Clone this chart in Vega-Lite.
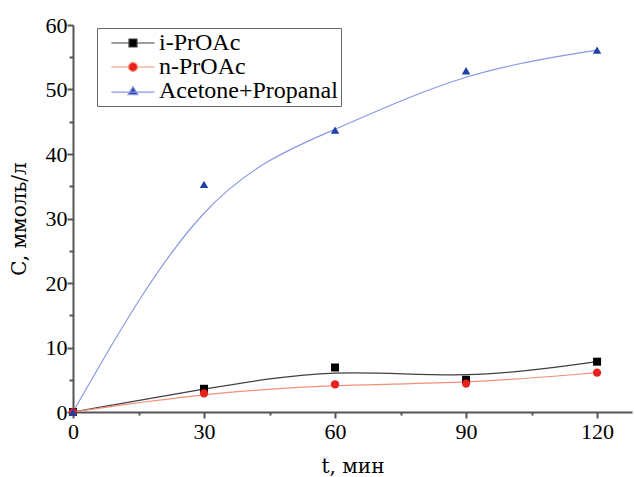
{
  "$schema": "https://vega.github.io/schema/vega-lite/v6.json",
  "width": 559,
  "height": 387,
  "autosize": {"type": "none"},
  "padding": {"left": 73, "top": 25, "right": 2, "bottom": 65},
  "background": "white",
  "config": {
    "view": {"stroke": null},
    "font": "Liberation Serif",
    "legend": {"symbolOpacity": 1, "symbolStrokeWidth": 1.2}
  },
  "data": {
    "values": [
      {"series": "i-PrOAc", "t": 0, "C": 0},
      {"series": "i-PrOAc", "t": 30, "C": 3.6},
      {"series": "i-PrOAc", "t": 60, "C": 6.9},
      {"series": "i-PrOAc", "t": 90, "C": 5.0},
      {"series": "i-PrOAc", "t": 120, "C": 7.8},
      {"series": "n-PrOAc", "t": 0, "C": 0},
      {"series": "n-PrOAc", "t": 30, "C": 2.9},
      {"series": "n-PrOAc", "t": 60, "C": 4.3},
      {"series": "n-PrOAc", "t": 90, "C": 4.4},
      {"series": "n-PrOAc", "t": 120, "C": 6.1},
      {"series": "Acetone+Propanal", "t": 0, "C": 0},
      {"series": "Acetone+Propanal", "t": 30, "C": 35.3},
      {"series": "Acetone+Propanal", "t": 60, "C": 43.7},
      {"series": "Acetone+Propanal", "t": 90, "C": 52.9},
      {"series": "Acetone+Propanal", "t": 120, "C": 56.1}
    ]
  },
  "encoding": {
    "x": {
      "field": "t",
      "type": "quantitative",
      "scale": {"domain": [0, 128], "nice": false, "zero": false},
      "axis": {
        "title": "t, мин",
        "values": [0, 15, 30, 45, 60, 75, 90, 105, 120],
        "labelExpr": "datum.value % 30 === 0 ? datum.label : ''",
        "tickSize": {"condition": {"test": "datum.value % 30 !== 0", "value": 3}, "value": 6},
        "grid": false,
        "domainColor": "#555555",
        "domainWidth": 2,
        "tickColor": "#555555",
        "tickWidth": 2,
        "labelFont": "Liberation Serif",
        "labelFontSize": 22,
        "labelColor": "black",
        "labelPadding": 3,
        "labelFlush": false,
        "labelOverlap": false,
        "titleFont": "DejaVu Serif",
        "titleFontSize": 20,
        "titleFontWeight": "normal",
        "titleColor": "black",
        "titlePadding": 14
      }
    },
    "y": {
      "field": "C",
      "type": "quantitative",
      "scale": {"domain": [0, 60], "nice": false},
      "axis": {
        "title": "C, ммоль/л",
        "values": [0, 5, 10, 15, 20, 25, 30, 35, 40, 45, 50, 55, 60],
        "labelExpr": "datum.value % 10 === 0 ? datum.label : ''",
        "tickSize": {"condition": {"test": "datum.value % 10 !== 0", "value": 4}, "value": 6},
        "grid": false,
        "domainColor": "#555555",
        "domainWidth": 2,
        "tickColor": "#555555",
        "tickWidth": 2,
        "labelFont": "Liberation Serif",
        "labelFontSize": 22,
        "labelColor": "black",
        "labelPadding": 0,
        "labelFlush": false,
        "labelOverlap": false,
        "titleFont": "DejaVu Serif",
        "titleFontSize": 20,
        "titleFontWeight": "normal",
        "titleColor": "black",
        "titlePadding": 16
      }
    }
  },
  "resolve": {"scale": {"shape": "independent", "size": "independent", "fill": "independent", "stroke": "independent"}},
  "layer": [
    {
      "mark": {"type": "line", "interpolate": "basis", "strokeWidth": 1.2},
      "encoding": {
        "stroke": {
          "field": "series",
          "type": "nominal",
          "scale": {
            "domain": ["i-PrOAc", "n-PrOAc", "Acetone+Propanal"],
            "range": ["#404040", "#f48f78", "#8a98e2"]
          },
          "legend": null
        }
      }
    },
    {
      "mark": {"type": "point", "filled": true, "opacity": 1},
      "encoding": {
        "fill": {
          "field": "series",
          "type": "nominal",
          "scale": {
            "domain": ["i-PrOAc", "n-PrOAc", "Acetone+Propanal"],
            "range": ["#000000", "#e8211c", "#1f40a5"]
          },
          "legend": null
        },
        "shape": {
          "field": "series",
          "type": "nominal",
          "scale": {
            "domain": ["i-PrOAc", "n-PrOAc", "Acetone+Propanal"],
            "range": ["square", "circle", "triangle-up"]
          },
          "legend": null
        },
        "size": {
          "field": "series",
          "type": "nominal",
          "scale": {
            "domain": ["i-PrOAc", "n-PrOAc", "Acetone+Propanal"],
            "range": [64, 72, 110]
          },
          "legend": null
        }
      }
    },
    {
      "mark": {"type": "point", "filled": true, "opacity": 0, "strokeWidth": 1.2},
      "encoding": {
        "fill": {
          "field": "series",
          "type": "nominal",
          "scale": {
            "domain": ["i-PrOAc", "n-PrOAc", "Acetone+Propanal"],
            "range": ["#000000", "#e8211c", "#1f40a5"]
          },
          "legend": {
            "title": null,
            "orient": "none",
            "legendX": 24,
            "legendY": 3,
            "symbolFillColor": "#000000"
          }
        },
        "stroke": {
          "field": "series",
          "type": "nominal",
          "scale": {
            "domain": ["i-PrOAc", "n-PrOAc", "Acetone+Propanal"],
            "range": ["#404040", "#f48f78", "#8a98e2"]
          },
          "legend": {
            "title": null,
            "orient": "none",
            "legendX": 24,
            "legendY": 3,
            "symbolFillColor": "#000000"
          }
        },
        "shape": {
          "field": "series",
          "type": "nominal",
          "scale": {
            "domain": ["i-PrOAc", "n-PrOAc", "Acetone+Propanal"],
            "range": [
              "M-5.4,0H-1M1,0H5.4M-1,-1H1V1H-1Z",
              "M-5.4,0H-1.1M1.1,0H5.4M-1.1,0A1.1,1.1,0,1,0,1.1,0A1.1,1.1,0,1,0,-1.1,0Z",
              "M-5.4,0.3H5.4M0,-1.1L1.25,0.9H-1.25Z"
            ]
          },
          "legend": {
            "title": null,
            "orient": "none",
            "legendX": 24,
            "legendY": 3,
            "strokeColor": "#666666",
            "fillColor": "white",
            "padding": 3,
            "symbolSize": 64,
            "symbolOffset": 21,
            "labelOffset": 14,
            "labelLimit": 400,
            "labelFont": "Liberation Serif",
            "labelFontSize": 24,
            "labelColor": "black",
            "rowPadding": 0,
            "symbolOpacity": 1,
            "symbolStrokeWidth": 1.2,
            "symbolFillColor": "#000000"
          }
        }
      }
    }
  ]
}
